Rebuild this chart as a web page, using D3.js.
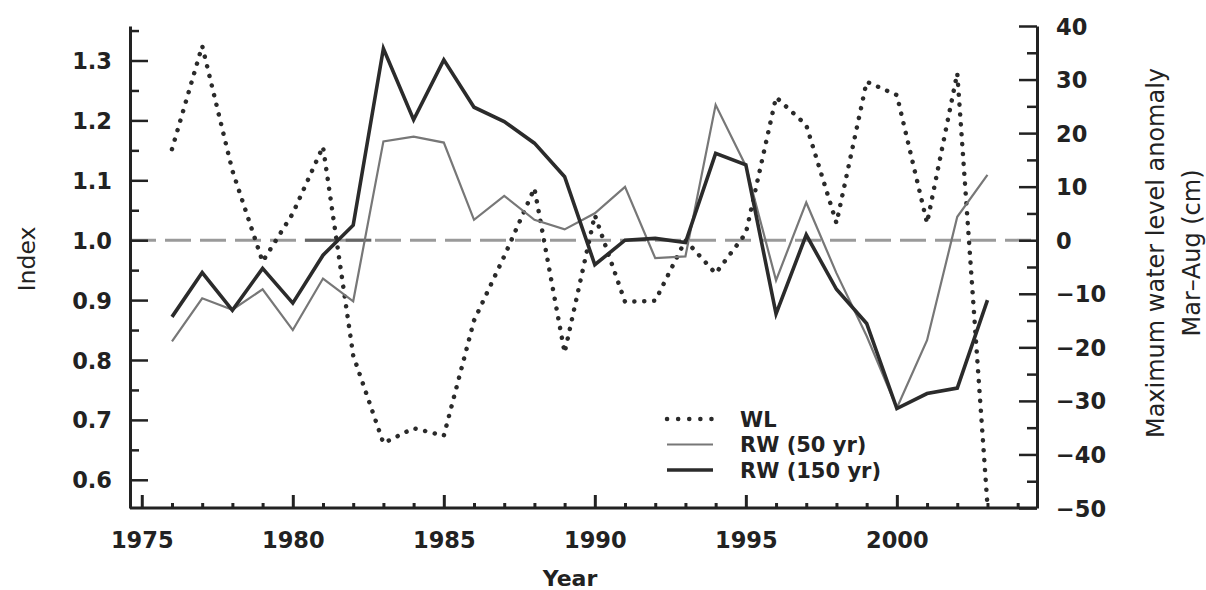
<!DOCTYPE html>
<html>
<head>
<meta charset="utf-8">
<script src="https://cdn.jsdelivr.net/npm/d3@7"></script>
<style>
  html, body { margin: 0; padding: 0; background: #ffffff; }
  svg { display: block; }
  .tick text { font-family: "DejaVu Sans", sans-serif; font-weight: bold; font-size: 22.5px; fill: #222; }
</style>
</head>
<body>
<svg id="chart" width="1206" height="590"></svg>
<script>
// Years of record
const years = [1976, 1977, 1978, 1979, 1980, 1981, 1982, 1983, 1984, 1985,
               1986, 1987, 1988, 1989, 1990, 1991, 1992, 1993, 1994, 1995,
               1996, 1997, 1998, 1999, 2000, 2001, 2002, 2003];

// Ring-width index, 150-year standardisation (left axis)
const rw150 = [0.872, 0.946, 0.883, 0.953, 0.895, 0.975, 1.025, 1.320, 1.201, 1.301,
               1.222, 1.198, 1.162, 1.106, 0.959, 1.000, 1.003, 0.996, 1.145, 1.126,
               0.877, 1.009, 0.918, 0.861, 0.719, 0.744, 0.753, 0.900];

// Ring-width index, 50-year standardisation (left axis)
const rw50 = [0.831, 0.903, 0.884, 0.918, 0.850, 0.936, 0.898, 1.165, 1.173, 1.163,
              1.034, 1.074, 1.034, 1.018, 1.045, 1.089, 0.970, 0.973, 1.226, 1.124,
              0.933, 1.063, 0.945, 0.840, 0.720, 0.833, 1.039, 1.109];

// Maximum water level anomaly Mar–Aug, cm (right axis)
const wl = [17.0, 36.3, 13.0, -4.0, 5.0, 17.5, -21.5, -37.9, -35.1, -36.5,
            -15.0, -3.0, 9.7, -21.0, 4.7, -11.5, -11.3, 0.0, -6.2, 1.3,
            26.7, 21.5, 3.2, 29.6, 27.1, 3.2, 31.2, -49.5];

// Axis ticks
const yearMajor = [1975, 1980, 1985, 1990, 1995, 2000];
const yearMinor = d3.range(1975, 2005);
const indexMajor = [0.6, 0.7, 0.8, 0.9, 1.0, 1.1, 1.2, 1.3];
const indexMinor = [0.65, 0.75, 0.85, 0.95, 1.05, 1.15, 1.25, 1.35];
const wlMajor = [-50, -40, -30, -20, -10, 0, 10, 20, 30, 40];
const wlMinor = [-45, -35, -25, -15, -5, 5, 15, 25, 35];

// Stretches of the reference line where it is drawn solid (in years)
const refSolid = [[1980.4, 1981.5], [1981.75, 1982.6]];

// Legend entries
const legendLabels = ["WL", "RW (50 yr)", "RW (150 yr)"];

const svg = d3.select("#chart");
const L = 130, R = 1037, T = 26, B = 508;

const x = d3.scaleLinear().domain([1974.61, 2004.64]).range([L, R]);
const yL = d3.scaleLinear().domain([0.5529, 1.3576]).range([B, T]);
const yR = d3.scaleLinear().domain([-50, 40]).range([B, T]);

const ink = "#222";

// clip for the series
svg.append("defs").append("clipPath").attr("id", "plot")
  .append("rect").attr("x", L).attr("y", T).attr("width", R - L).attr("height", B - T);

// reference line at index 1.0 / anomaly 0
svg.append("line")
  .attr("x1", L).attr("x2", R)
  .attr("y1", yL(1.0)).attr("y2", yL(1.0))
  .attr("stroke", "#9a9a9a").attr("stroke-width", 3)
  .attr("stroke-dasharray", "26,9");
svg.selectAll("line.refsolid").data(refSolid).join("line")
  .attr("class", "refsolid")
  .attr("x1", d => x(d[0])).attr("x2", d => x(d[1]))
  .attr("y1", yL(1.0)).attr("y2", yL(1.0))
  .attr("stroke", "#666").attr("stroke-width", 3);

const g = svg.append("g").attr("clip-path", "url(#plot)");

const lineL = d3.line().x((d, i) => x(years[i])).y(d => yL(d));
const lineR = d3.line().x((d, i) => x(years[i])).y(d => yR(d));

// water level (dotted)
g.append("path").datum(wl).attr("d", lineR)
  .attr("fill", "none").attr("stroke", "#2a2a2a").attr("stroke-width", 4.5)
  .attr("stroke-linecap", "round").attr("stroke-dasharray", "0.1,9.8");

// RW 50 yr (thin grey)
g.append("path").datum(rw50).attr("d", lineL)
  .attr("fill", "none").attr("stroke", "#777").attr("stroke-width", 2.2)
  .attr("stroke-linejoin", "miter");

// RW 150 yr (thick dark)
g.append("path").datum(rw150).attr("d", lineL)
  .attr("fill", "none").attr("stroke", "#2b2b2b").attr("stroke-width", 3.6)
  .attr("stroke-linejoin", "miter");

// ---- axes ----
function styleAxis(sel, w) {
  sel.selectAll(".domain").attr("stroke", ink).attr("stroke-width", 3);
  sel.selectAll(".tick line").attr("stroke", ink).attr("stroke-width", w);
}

// left
const axL = svg.append("g").attr("transform", `translate(${L},0)`)
  .call(d3.axisLeft(yL).tickValues(indexMajor).tickFormat(d3.format(".1f"))
    .tickSize(-18).tickSizeOuter(0).tickPadding(18));
styleAxis(axL, 2.5);
axL.selectAll(".tick text").attr("dy", "0.36em");
const axLm = svg.append("g").attr("transform", `translate(${L},0)`)
  .call(d3.axisLeft(yL).tickValues(indexMinor).tickFormat("").tickSize(-9).tickSizeOuter(0));
styleAxis(axLm, 2.5);
axLm.select(".domain").remove();

// right
const axR = svg.append("g").attr("transform", `translate(${R},0)`)
  .call(d3.axisRight(yR).tickValues(wlMajor).tickFormat(d3.format("d"))
    .tickSize(-18).tickSizeOuter(0).tickPadding(19));
styleAxis(axR, 2.5);
axR.selectAll(".tick text").attr("dy", "0.36em");
const axRm = svg.append("g").attr("transform", `translate(${R},0)`)
  .call(d3.axisRight(yR).tickValues(wlMinor).tickFormat("").tickSize(-10).tickSizeOuter(0));
styleAxis(axRm, 2.5);
axRm.select(".domain").remove();

// bottom
const axB = svg.append("g").attr("transform", `translate(0,${B})`)
  .call(d3.axisBottom(x).tickValues(yearMajor).tickFormat(d3.format("d"))
    .tickSize(-13).tickSizeOuter(0).tickPadding(24));
styleAxis(axB, 3);
const axBm = svg.append("g").attr("transform", `translate(0,${B})`)
  .call(d3.axisBottom(x).tickValues(yearMinor.filter(v => !yearMajor.includes(v)))
    .tickFormat("").tickSize(-5).tickSizeOuter(0));
styleAxis(axBm, 3);
axBm.select(".domain").remove();
axB.select(".domain").attr("d", `M${L},0H${R}`);

// ---- axis titles ----
svg.append("text")
  .attr("x", 570).attr("y", 586)
  .attr("text-anchor", "middle")
  .attr("font-family", "DejaVu Sans, sans-serif").attr("font-weight", "bold")
  .attr("font-size", 22).attr("fill", ink)
  .text("Year");

svg.append("text")
  .attr("transform", "translate(27,259) rotate(-90)")
  .attr("text-anchor", "middle").attr("dy", "0.35em")
  .attr("font-family", "DejaVu Sans, sans-serif")
  .attr("font-size", 23.5).attr("fill", ink)
  .text("Index");

const rt = svg.append("text")
  .attr("transform", "translate(1156,253) rotate(-90)")
  .attr("text-anchor", "middle")
  .attr("font-family", "DejaVu Sans, sans-serif")
  .attr("font-size", 24).attr("fill", ink);
rt.append("tspan").attr("x", 0).attr("dy", "0.35em").text("Maximum water level anomaly");
rt.append("tspan").attr("x", 0).attr("dy", "1.5em").text("Mar–Aug (cm)");

// ---- legend ----
const legStyles = [
  { stroke: "#2a2a2a", width: 4.5, dash: "0.1,11", cap: "round" },
  { stroke: "#777", width: 2.2, dash: null, cap: "butt" },
  { stroke: "#2b2b2b", width: 3.6, dash: null, cap: "butt" }
];
const legRow = d3.scalePoint().domain(legendLabels).range([419, 470]);
const leg = svg.append("g");
leg.selectAll("line").data(legendLabels).join("line")
  .attr("x1", 667).attr("x2", 713)
  .attr("y1", d => legRow(d)).attr("y2", d => legRow(d))
  .attr("stroke", (d, i) => legStyles[i].stroke)
  .attr("stroke-width", (d, i) => legStyles[i].width)
  .attr("stroke-dasharray", (d, i) => legStyles[i].dash)
  .attr("stroke-linecap", (d, i) => legStyles[i].cap);
leg.selectAll("text").data(legendLabels).join("text")
  .attr("x", 740).attr("y", d => legRow(d)).attr("dy", "0.36em")
  .attr("font-family", "DejaVu Sans, sans-serif").attr("font-weight", "bold")
  .attr("font-size", 21).attr("fill", ink)
  .text(d => d);
</script>
</body>
</html>
